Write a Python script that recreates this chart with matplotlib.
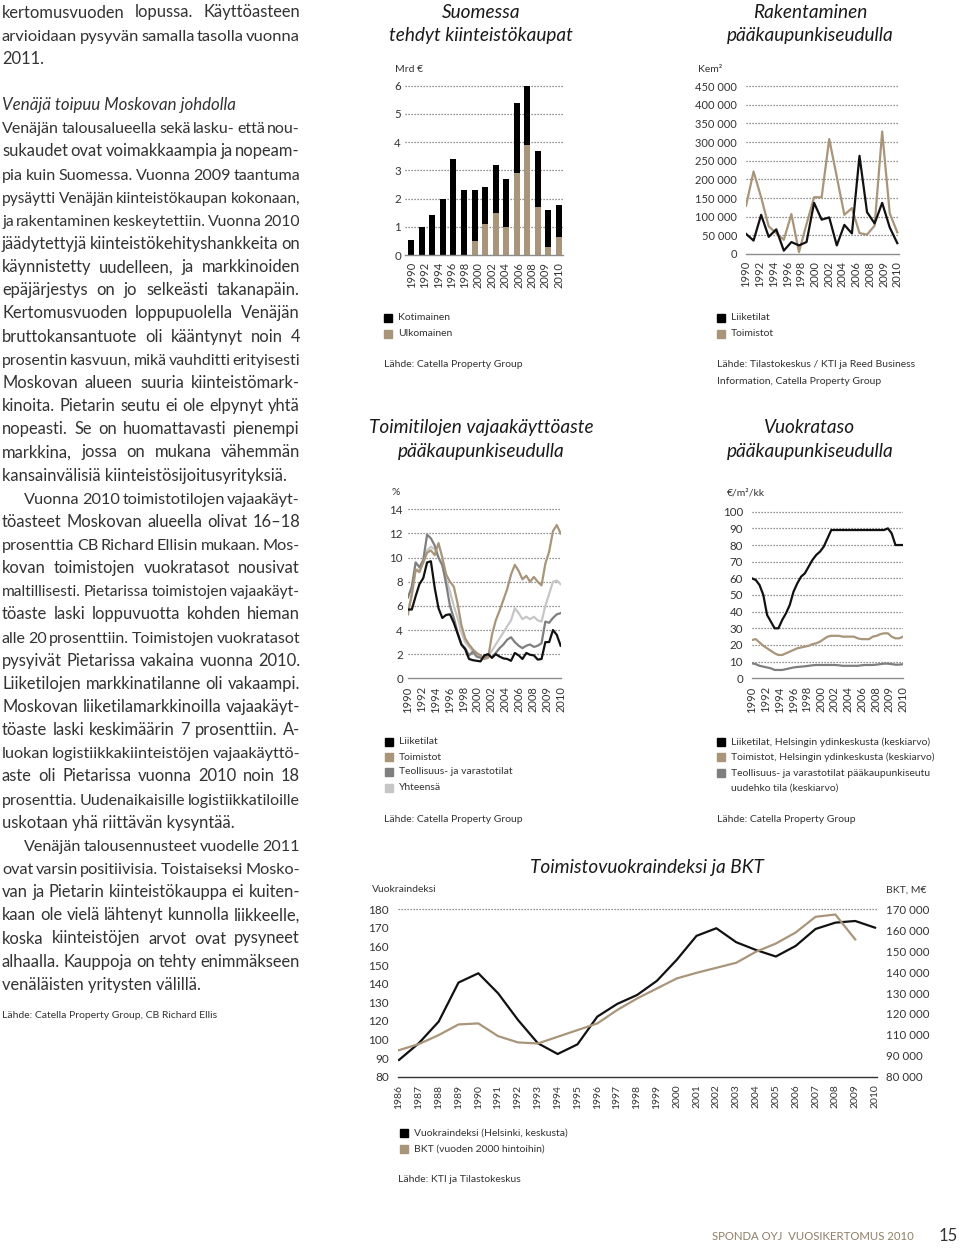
import numpy as np
import matplotlib.pyplot as plt
from matplotlib.patches import Rectangle

plt.rcParams['font.family'] = ['Lato', 'DejaVu Sans']

# ---------------- data ----------------
# Suomessa tehdyt kiinteistökaupat, Mrd €
kaupat_kotim = [0.53, 1.0, 1.4, 2.0, 3.4, 2.3, 1.8, 1.3, 1.7, 1.7, 2.5, 2.1, 2.0, 1.3, 1.12]
kaupat_ulkom = [0, 0, 0, 0, 0, 0, 0.5, 1.1, 1.5, 1.0, 2.9, 3.9, 1.7, 0.3, 0.65]
vuosi_tekstit = ['1990', '1992', '1994', '1996', '1998', '2000', '2002', '2004',
                 '2006', '2008', '2009', '2010']

# Rakentaminen pääkaupunkiseudulla, kem2
rak_vuodet = list(range(1990, 2011))
rak_liiketilat = [54000, 36000, 105000, 46000, 66000, 9000, 32000, 23000, 32000, 137000, 92000,
                  98000, 23000, 78000, 55000, 263000, 112000, 82000, 137000, 71000, 29000]
rak_toimistot = [129000, 221000, 152000, 74000, 56000, 38000, 107000, 5000, 80000, 152000, 152000,
                 308000, 207000, 105000, 123000, 56000, 52000, 76000, 328000, 109000, 58000]

# Vajaakäyttöaste, % (puolivuosittain)
puolivuodet = np.arange(1990, 2010.01, 0.5)
vaja_liike = [5.7, 5.7, 6.8, 7.8, 8.3, 9.6, 9.7, 7.5, 5.8, 5.0, 5.25, 5.3, 4.6, 3.7, 2.8, 2.4, 1.6,
              1.5, 1.45, 1.4, 1.9, 2.0, 1.7, 2.0, 1.8, 1.65, 1.6, 1.45, 2.1, 1.9, 1.6, 2.1, 1.95,
              1.9, 1.55, 1.6, 3.0, 3.0, 4.0, 3.6, 2.7]
vaja_toimisto = [5.3, 7.0, 9.0, 8.8, 9.6, 10.4, 10.6, 10.2, 11.2, 10.0, 8.6, 8.0, 7.6, 6.2, 4.4,
                 3.3, 2.8, 2.4, 2.1, 1.9, 1.6, 1.7, 3.6, 4.8, 5.6, 6.5, 7.4, 8.6, 9.4, 8.9, 8.2,
                 8.5, 8.0, 8.4, 8.0, 7.7, 9.5, 10.5, 12.2, 12.7, 12.0]
vaja_teoll = [6.7, 7.6, 9.6, 9.2, 9.8, 11.9, 11.6, 11.0, 10.0, 9.4, 7.8, 6.0, 5.0, 3.8, 2.8, 2.5,
              1.9, 2.2, 1.8, 1.7, 1.7, 2.0, 1.7, 2.1, 2.5, 2.8, 3.2, 3.4, 3.0, 2.7, 2.5, 2.7, 2.8,
              2.6, 2.7, 2.9, 4.7, 4.6, 5.0, 5.3, 5.4]
vaja_yht = [5.7, 6.8, 9.0, 9.0, 9.6, 10.6, 10.9, 10.7, 10.0, 9.3, 8.2, 7.2, 6.0, 5.0, 3.8, 3.0,
            2.6, 2.2, 1.9, 1.8, 1.7, 1.8, 2.3, 2.8, 3.3, 3.8, 4.3, 4.8, 5.8, 5.4, 4.9, 5.1, 4.9,
            5.1, 4.8, 4.7, 6.0, 7.0, 8.0, 8.1, 7.8]

# Vuokrataso, €/m2/kk (puolivuosittain)
vuokra_liike = [60, 59, 56, 50, 38, 34, 30, 30, 35, 39, 44, 52, 57, 61, 63, 67, 71, 74, 76, 79,
                84, 89, 89, 89, 89, 89, 89, 89, 89, 89, 89, 89, 89, 89, 89, 89, 90, 87, 80, 80, 80]
vuokra_toim = [23, 23.5, 21.5, 19.5, 18, 16.5, 15, 14, 14, 15, 16, 17, 18, 18.5, 19, 19.5, 20.5,
               21, 22, 23.5, 25, 25.5, 25.5, 25.5, 25, 25, 25, 25, 24, 23.5, 23.5, 23.5, 25, 25.5,
               26.5, 27, 27, 25, 24, 24, 25]
vuokra_teoll = [9, 8.5, 7.5, 7, 6.5, 6, 5, 5, 5, 5.5, 6, 6.5, 6.8, 7, 7.2, 7.5, 7.8, 8, 8, 8, 8, 8,
                8, 7.8, 7.5, 7.5, 7.5, 7.5, 7.5, 7.8, 8, 8, 8, 8.2, 8.5, 8.8, 8.8, 8.5, 8.2, 8.2, 8.5]

# Toimistovuokraindeksi ja BKT
ind_vuodet = list(range(1986, 2011))
vuokraindeksi = [99.0, 108.0, 119.6, 140.6, 145.6, 134.8, 120.5, 108.0, 102.2, 107.4, 122.3,
                 129.1, 133.9, 141.5, 152.8, 165.7, 169.8, 162.3, 158.1, 154.6, 160.3, 169.4,
                 172.8, 173.7, 170.1]
bkt_vuodet = list(range(1986, 2010))
bkt = [102700, 105600, 109900, 115000, 115500, 109400, 106400, 105900, 109100, 112300, 115500,
       121900, 127400, 132200, 137000, 139700, 142100, 144500, 149800, 153700, 159000, 166500,
       167600, 155700]
indeksi_tekstit = ['80', '90', '100', '120', '130', '140', '150', '160', '170', '180']
bkt_tekstit = ['80 000', '90 000', '110 000', '120 000', '130 000', '140 000', '150 000',
               '160 000', '170 000']

# leipäteksti
rivit = [
    ("kertomusvuoden lopussa. Käyttöasteen", "j"),
    ("arvioidaan pysyvän samalla tasolla vuonna", "j"),
    ("2011.", "l"),
    ("", "l"),
    ("Venäjä toipuu Moskovan johdolla", "h"),
    ("Venäjän talousalueella sekä lasku- että nou-", "j"),
    ("sukaudet ovat voimakkaampia ja nopeam-", "j"),
    ("pia kuin Suomessa. Vuonna 2009 taantuma", "j"),
    ("pysäytti Venäjän kiinteistökaupan kokonaan,", "j"),
    ("ja rakentaminen keskeytettiin. Vuonna 2010", "j"),
    ("jäädytettyjä kiinteistökehityshankkeita on", "j"),
    ("käynnistetty uudelleen, ja markkinoiden", "j"),
    ("epäjärjestys on jo selkeästi takanapäin.", "j"),
    ("Kertomusvuoden loppupuolella Venäjän", "j"),
    ("bruttokansantuote oli kääntynyt noin 4", "j"),
    ("prosentin kasvuun, mikä vauhditti erityisesti", "j"),
    ("Moskovan alueen suuria kiinteistömark-", "j"),
    ("kinoita. Pietarin seutu ei ole elpynyt yhtä", "j"),
    ("nopeasti. Se on huomattavasti pienempi", "j"),
    ("markkina, jossa on mukana vähemmän", "j"),
    ("kansainvälisiä kiinteistösijoitusyrityksiä.", "l"),
    ("Vuonna 2010 toimistotilojen vajaakäyt-", "ij"),
    ("töasteet Moskovan alueella olivat 16–18", "j"),
    ("prosenttia CB Richard Ellisin mukaan. Mos-", "j"),
    ("kovan toimistojen vuokratasot nousivat", "j"),
    ("maltillisesti. Pietarissa toimistojen vajaakäyt-", "j"),
    ("töaste laski loppuvuotta kohden hieman", "j"),
    ("alle 20 prosenttiin. Toimistojen vuokratasot", "j"),
    ("pysyivät Pietarissa vakaina vuonna 2010.", "j"),
    ("Liiketilojen markkinatilanne oli vakaampi.", "j"),
    ("Moskovan liiketilamarkkinoilla vajaakäyt-", "j"),
    ("töaste laski keskimäärin 7 prosenttiin. A-", "j"),
    ("luokan logistiikkakiinteistöjen vajaakäyttö-", "j"),
    ("aste oli Pietarissa vuonna 2010 noin 18", "j"),
    ("prosenttia. Uudenaikaisille logistiikkatiloille", "j"),
    ("uskotaan yhä riittävän kysyntää.", "l"),
    ("Venäjän talousennusteet vuodelle 2011", "ij"),
    ("ovat varsin positiivisia. Toistaiseksi Mosko-", "j"),
    ("van ja Pietarin kiinteistökauppa ei kuiten-", "j"),
    ("kaan ole vielä lähtenyt kunnolla liikkeelle,", "j"),
    ("koska kiinteistöjen arvot ovat pysyneet", "j"),
    ("alhaalla. Kauppoja on tehty enimmäkseen", "j"),
    ("venäläisten yritysten välillä.", "l"),
]

# ---------------- apuja ----------------
W, H = 960, 1253
MUSTA = '#111111'
RUSKEA = '#a8957a'
HARMAA = '#7f7f7f'
VAALEA = '#c6c6c6'
TEKSTI = '#333333'
OTSIKKO_KOKO = 13.7
SELITE_KOKO = 7.5

fig = plt.figure(figsize=(W / 100, H / 100), dpi=100)
renderer = fig.canvas.get_renderer()


def fx(x):
    return x / W


def fy(y):
    return 1 - y / H


def akseli(x0, x1, y_top, y_bot):
    return fig.add_axes([fx(x0), fy(y_bot), (x1 - x0) / W, (y_bot - y_top) / H])


def muotoile(ax, viivat, xpad=5, ypad=4, pohja='#8c8c8c', koko=8.3):
    for s in ['top', 'right', 'left']:
        ax.spines[s].set_visible(False)
    ax.spines['bottom'].set_color(pohja)
    ax.spines['bottom'].set_linewidth(1.0)
    ax.tick_params(length=0, labelsize=koko, colors=TEKSTI)
    ax.tick_params(axis='x', pad=xpad * 0.72, labelsize=8)
    ax.tick_params(axis='y', pad=ypad * 0.72)
    for v in viivat:
        ax.axhline(v, color='#6e6e6e', lw=0.9, ls=(0, (1, 1.4)), zorder=0)
    ax.set_facecolor('none')


def tuhannet(v):
    return f"{int(v):,}".replace(',', ' ')


def otsikko(x, y, t):
    fig.text(fx(x), fy(y), t, ha='center', va='center', style='italic', fontsize=OTSIKKO_KOKO,
             color='#1a1a1a')


def pieni(x, y, t, koko=SELITE_KOKO, **kw):
    fig.text(fx(x), fy(y), t, ha='left', va='center', fontsize=koko, color=TEKSTI, **kw)


def selite(x, y, vari, t):
    fig.add_artist(Rectangle((fx(x), fy(y + 4)), 8 / W, 8 / H, color=vari,
                             transform=fig.transFigure))
    pieni(x + 14, y, t)


# ---------------- 1: Suomessa tehdyt kiinteistökaupat ----------------
otsikko(481, 12, 'Suomessa')
otsikko(481, 35, 'tehdyt kiinteistökaupat')
ax1 = akseli(405, 563, 80.0, 255)
pos = np.arange(len(kaupat_kotim))
ax1.bar(pos, kaupat_ulkom, width=0.57, color=RUSKEA, zorder=2)
ax1.bar(pos, kaupat_kotim, bottom=kaupat_ulkom, width=0.57, color='black', zorder=2)
ax1.set_xlim(-0.6, 14.4)
ax1.set_ylim(0, 6.2)
muotoile(ax1, range(1, 7), xpad=7, ypad=4)
ax1.set_yticks(range(0, 7))
ax1.set_xticks(np.linspace(0, 14, len(vuosi_tekstit)), vuosi_tekstit, rotation=90)
pieni(395, 70, 'Mrd €')
selite(384, 318, 'black', 'Kotimainen')
selite(384, 334, RUSKEA, 'Ulkomainen')
pieni(384, 365, 'Lähde: Catella Property Group')

# ---------------- 2: Rakentaminen ----------------
otsikko(810, 12, 'Rakentaminen')
otsikko(810, 35, 'pääkaupunkiseudulla')
ax2 = akseli(746, 899.2, 82.3, 254)
ax2.plot(rak_vuodet, rak_toimistot, color=RUSKEA, lw=1.6, zorder=2)
ax2.plot(rak_vuodet, rak_liiketilat, color=MUSTA, lw=1.6, zorder=3)
ax2.set_xlim(1990, 2010.25)
ax2.set_ylim(0, 460000)
muotoile(ax2, range(50000, 450001, 50000), xpad=7, ypad=9, koko=8)
ax2.set_yticks(range(0, 450001, 50000), [tuhannet(v) for v in range(0, 450001, 50000)])
ax2.set_xticks(np.linspace(1990, 2010, len(vuosi_tekstit)), vuosi_tekstit, rotation=90)
pieni(698, 70, 'Kem²')
selite(717, 318, 'black', 'Liiketilat')
selite(717, 334, RUSKEA, 'Toimistot')
pieni(717, 365, 'Lähde: Tilastokeskus / KTI ja Reed Business')
pieni(717, 381, 'Information, Catella Property Group')

# ---------------- 3: Vajaakäyttöaste ----------------
otsikko(481, 428, 'Toimitilojen vajaakäyttöaste')
otsikko(481, 451, 'pääkaupunkiseudulla')
ax3 = akseli(408, 561, 503.3, 678.3)
ax3.plot(puolivuodet, vaja_yht, color=VAALEA, lw=1.6, zorder=2)
ax3.plot(puolivuodet, vaja_teoll, color=HARMAA, lw=1.6, zorder=3)
ax3.plot(puolivuodet, vaja_toimisto, color=RUSKEA, lw=1.6, zorder=4)
ax3.plot(puolivuodet, vaja_liike, color=MUSTA, lw=1.6, zorder=5)
ax3.set_xlim(1990, 2010.05)
ax3.set_ylim(0, 14.5)
muotoile(ax3, range(2, 15, 2), xpad=8, ypad=5)
ax3.set_yticks(range(0, 15, 2))
ax3.set_xticks(np.linspace(1990, 2010, len(vuosi_tekstit)), vuosi_tekstit, rotation=90)
pieni(392, 493, '%')
selite(385, 742, 'black', 'Liiketilat')
selite(385, 757, RUSKEA, 'Toimistot')
selite(385, 772, HARMAA, 'Teollisuus- ja varastotilat')
selite(385, 788, VAALEA, 'Yhteensä')
pieni(384, 819, 'Lähde: Catella Property Group')

# ---------------- 4: Vuokrataso ----------------
otsikko(810, 428, 'Vuokrataso')
otsikko(810, 451, 'pääkaupunkiseudulla')
ax4 = akseli(752, 903, 506.7, 678.3)
ax4.plot(puolivuodet, vuokra_teoll, color=HARMAA, lw=1.6, zorder=2)
ax4.plot(puolivuodet, vuokra_toim, color=RUSKEA, lw=1.6, zorder=3)
ax4.plot(puolivuodet, vuokra_liike, color=MUSTA, lw=1.6, zorder=4)
ax4.set_xlim(1990, 2010)
ax4.set_ylim(0, 103)
muotoile(ax4, range(10, 101, 10), xpad=8, ypad=9)
ax4.set_yticks(range(0, 101, 10))
ax4.set_xticks(np.linspace(1990, 2010, len(vuosi_tekstit)), vuosi_tekstit, rotation=90)
pieni(727, 493, '€/m²/kk')
selite(717, 742, 'black', 'Liiketilat, Helsingin ydinkeskusta (keskiarvo)')
selite(717, 757, RUSKEA, 'Toimistot, Helsingin ydinkeskusta (keskiarvo)')
selite(717, 773, HARMAA, 'Teollisuus- ja varastotilat pääkaupunkiseutu')
pieni(731, 788, 'uudehko tila (keskiarvo)')
pieni(717, 819, 'Lähde: Catella Property Group')

# ---------------- 5: Toimistovuokraindeksi ja BKT ----------------
otsikko(647, 868, 'Toimistovuokraindeksi ja BKT')
ax5 = akseli(398, 877, 907.4, 1076.7)
ax5.plot(ind_vuodet, vuokraindeksi, color=MUSTA, lw=1.6, zorder=4)
ax5.set_xlim(1985.95, 2010.1)
ax5.set_ylim(90, 181)
muotoile(ax5, [180], xpad=8, ypad=9, pohja='#333333', koko=8.5)
ax5.set_yticks(range(90, 181, 10), indeksi_tekstit)
ax5.set_xticks(ind_vuodet, [str(v) for v in ind_vuodet], rotation=90)
ax5.tick_params(axis='x', labelsize=7.5)
ax6 = ax5.twinx()
ax6.plot(bkt_vuodet, bkt, color=RUSKEA, lw=1.6, zorder=3)
ax6.set_ylim(90000, 171000)
for s in ['top', 'right', 'left', 'bottom']:
    ax6.spines[s].set_visible(False)
ax6.tick_params(length=0, labelsize=8.3, colors=TEKSTI, pad=9 * 0.72)
ax6.set_yticks(range(90000, 170001, 10000), bkt_tekstit)
pieni(372, 890, 'Vuokraindeksi')
pieni(886, 890, 'BKT, M€')
selite(400, 1133, 'black', 'Vuokraindeksi (Helsinki, keskusta)')
selite(400, 1149, RUSKEA, 'BKT (vuoden 2000 hintoihin)')
pieni(398, 1179, 'Lähde: KTI ja Tilastokeskus')

# ---------------- leipäteksti ----------------
X0, X1, SISENNYS = 2, 300, 22
RIVIVALI = 23.15
PERUSKOKO = 11.9
MIN_VALI = 2.4


def leveys(t):
    return t.get_window_extent(renderer).width


for i, (txt, tapa) in enumerate(rivit):
    if not txt:
        continue
    y = fy(13 + i * RIVIVALI + 4.5)
    kw = dict(color=TEKSTI, va='baseline', ha='left')
    if tapa == 'h':
        fig.text(fx(X0), y, txt, style='italic', fontsize=PERUSKOKO + 0.3, **kw)
        continue
    x0 = X0 + (SISENNYS if tapa == 'ij' else 0)
    sanat = txt.split()
    if tapa == 'l' or len(sanat) < 2:
        fig.text(fx(x0), y, txt, fontsize=PERUSKOKO, **kw)
        continue
    osat = [fig.text(0, y, s, fontsize=PERUSKOKO, **kw) for s in sanat]
    lev = [leveys(o) for o in osat]
    tila = X1 - x0 - (len(sanat) - 1) * MIN_VALI
    if sum(lev) > tila:
        koko = PERUSKOKO * tila / sum(lev)
        for o in osat:
            o.set_fontsize(koko)
        lev = [leveys(o) for o in osat]
    vali = (X1 - x0 - sum(lev)) / (len(sanat) - 1)
    x = x0
    for o, w in zip(osat, lev):
        o.set_x(fx(x))
        x += w + vali

pieni(2, 1015, 'Lähde: Catella Property Group, CB Richard Ellis', koko=7.5)

# alatunniste
fig.text(fx(712), fy(1236), 'SPONDA OYJ  VUOSIKERTOMUS 2010', fontsize=8.2, color='#8f7f66',
         ha='left', va='center')
fig.text(fx(958), fy(1236), '15', fontsize=12, color='#333333', ha='right', va='center')

fig.savefig('out.png', dpi=100)
